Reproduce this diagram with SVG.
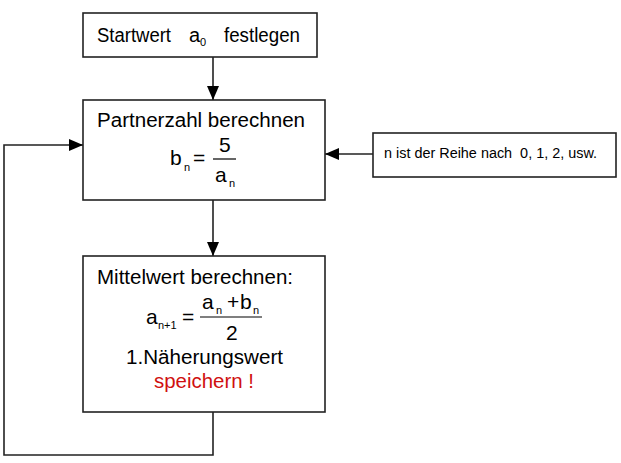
<svg xmlns="http://www.w3.org/2000/svg" width="621" height="463" viewBox="0 0 621 463">
<defs>
<marker id="arr" markerWidth="14" markerHeight="12" refX="14" refY="6" orient="auto" markerUnits="userSpaceOnUse">
<path d="M0,0 L14,6 L0,12 Z" fill="#000"/>
</marker>
</defs>
<style>
.box{fill:#fff;stroke:#222;stroke-width:1.6}
.t{font-family:"Liberation Sans",Arial,sans-serif;font-size:20px;fill:#000}
.sub{font-family:"Liberation Sans",Arial,sans-serif;font-size:11px;fill:#000}
.m{font-family:"Liberation Sans",Arial,sans-serif;font-size:21px;fill:#000}
.line{fill:none;stroke:#222;stroke-width:1.6}
</style>
<rect width="621" height="463" fill="#fff"/>
<g id="connectors">
<path class="line" d="M213,57 V100" marker-end="url(#arr)"/>
<path class="line" d="M213,200 V256" marker-end="url(#arr)"/>
<path class="line" d="M373,154 H325" marker-end="url(#arr)"/>
<path class="line" d="M213,412 V455 H4 V145 H83" marker-end="url(#arr)"/>
</g>
<g id="start">
<rect class="box" x="83" y="13" width="234" height="44"/>
<text class="t" x="97" y="42" textLength="74" lengthAdjust="spacingAndGlyphs">Startwert</text>
<text class="t" x="189" y="42">a</text>
<text class="sub" x="200" y="46">0</text>
<text class="t" x="224" y="42" textLength="76" lengthAdjust="spacingAndGlyphs">festlegen</text>
</g>
<g id="partner">
<rect class="box" x="83" y="100" width="242" height="100"/>
<text class="t" x="97" y="127" textLength="208" lengthAdjust="spacingAndGlyphs">Partnerzahl berechnen</text>
<text class="m" x="170" y="165">b</text>
<text class="sub" x="184" y="171">n</text>
<text class="m" x="193" y="165">=</text>
<line x1="213" y1="159" x2="236" y2="159" stroke="#000" stroke-width="1.2"/>
<text class="m" x="219" y="152">5</text>
<text class="m" x="215" y="182">a</text>
<text class="sub" x="229" y="187">n</text>
</g>
<g id="mittel">
<rect class="box" x="83" y="256" width="242" height="156"/>
<text class="t" x="97" y="284" textLength="196" lengthAdjust="spacingAndGlyphs">Mittelwert berechnen:</text>
<text class="m" x="146" y="324">a</text>
<text class="sub" x="158" y="329">n+1</text>
<text class="m" x="182" y="324">=</text>
<line x1="200" y1="317" x2="262" y2="317" stroke="#000" stroke-width="1.2"/>
<text class="m" x="202" y="309">a</text>
<text class="sub" x="216" y="314">n</text>
<text class="m" x="227" y="309">+</text>
<text class="m" x="240" y="309">b</text>
<text class="sub" x="253" y="314">n</text>
<text class="m" x="226" y="340">2</text>
<text class="t" x="126" y="364" textLength="157" lengthAdjust="spacingAndGlyphs">1.Näherungswert</text>
<text class="t" x="154" y="388" style="fill:#d01010" textLength="100" lengthAdjust="spacingAndGlyphs">speichern !</text>
</g>
<g id="note">
<rect class="box" x="373" y="133" width="243" height="44"/>
<text x="384" y="158" font-family="Liberation Sans,Arial,sans-serif" font-size="14" textLength="213" lengthAdjust="spacingAndGlyphs" xml:space="preserve">n ist der Reihe nach  0, 1, 2, usw.</text>
</g>
</svg>
